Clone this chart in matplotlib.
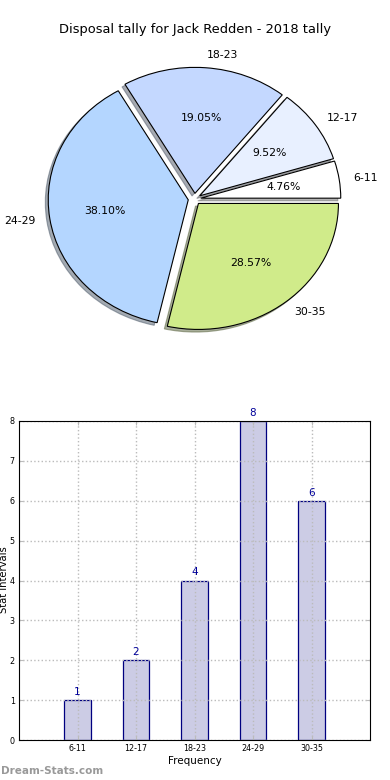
import numpy as np
import matplotlib
matplotlib.use('Agg')
import matplotlib.pyplot as plt

# data
intervals = ['6-11', '12-17', '18-23', '24-29', '30-35']
counts = [1, 2, 4, 8, 6]
pie_colors = ['#FFFFFF', '#E8F0FF', '#C4D8FF', '#B4D6FF', '#D0EB8A']
explode = [0.045, 0.045, 0.045, 0.045, 0.045]

fig = plt.figure(figsize=(3.9, 7.8), dpi=100)
fig.patch.set_facecolor('white')

# pie (old style, not forced round)
ax1 = fig.add_axes([0.0, 0.5205, 0.9974, 0.4487])
wedges, texts, autotexts = ax1.pie(counts, labels=intervals, colors=pie_colors,
                                   explode=explode, autopct='%1.2f%%',
                                   shadow={'ox': -0.015, 'oy': -0.015, 'shade': 0.6},
                                   startangle=0, labeldistance=1.1, pctdistance=0.6,
                                   wedgeprops={'linewidth': 0.8, 'edgecolor': 'black'},
                                   textprops={'fontsize': 7.8})
ax1.set_aspect('auto')
ax1.set_xlim(-1.389, 1.389)
ax1.set_ylim(-1.389, 1.389)
fig.text(0.5, 1 - 30 / 780, 'Disposal tally for Jack Redden - 2018 tally',
         ha='center', va='center', fontsize=9.4)

# bar chart
ax2 = fig.add_axes([19 / 390, 40 / 780, 351 / 390, 319 / 780])
x = np.arange(1, len(counts) + 1)
bars = ax2.bar(x, counts, width=0.45, color='#CCCCE5', edgecolor='#000080', linewidth=0.9)
for xi, c in zip(x, counts):
    ax2.text(xi, c + 0.08, str(c), ha='center', va='bottom', color='#000099', fontsize=7.5)
ax2.set_xlim(0, 6)
ax2.set_ylim(0, 8)
ax2.set_xticks(x)
ax2.set_xticklabels(intervals)
ax2.set_yticks(range(0, 9))
ax2.tick_params(direction='in', labelsize=5.8, top=True, right=True, length=3,
                color='#bbbbbb', pad=3)
ax2.grid(True, linestyle=':', color='#bbbbbb', linewidth=1.0)
ax2.set_axisbelow(False)
for s in ax2.spines.values():
    s.set_zorder(4)
ax2.set_xlabel('Frequency', fontsize=7.5, labelpad=2)
fig.text(4 / 390, 1 - 580 / 780, 'Stat Intervals', rotation=90, ha='center',
         va='center', fontsize=7.2)

fig.text(0.002, 1 - 771 / 780, 'Dream-Stats.com', ha='left', va='center',
         fontsize=7.5, color='#999999', fontweight='bold')

fig.savefig('out.png', dpi=100, facecolor='white')
